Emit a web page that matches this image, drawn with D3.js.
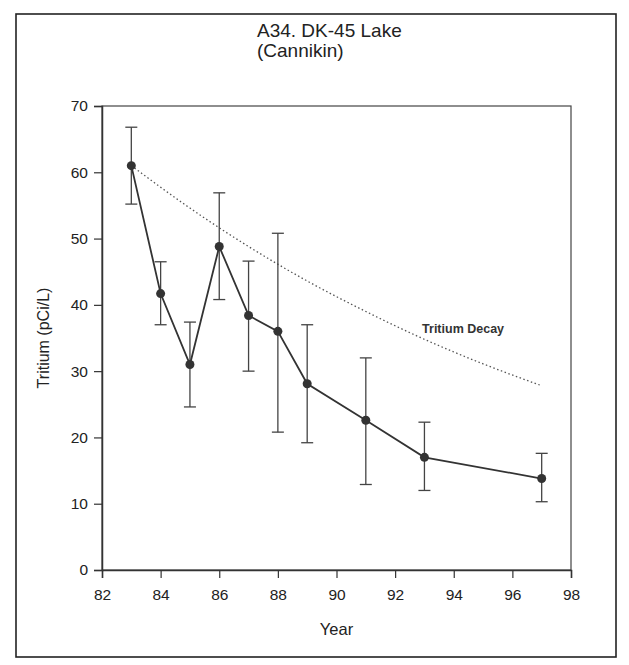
<!DOCTYPE html>
<html>
<head>
<meta charset="utf-8">
<script src="https://cdn.jsdelivr.net/npm/d3@7"></script>
<style>
  body { margin: 0; background: #fff; }
  svg { font-family: 'Liberation Sans', Arial, sans-serif; }
</style>
</head>
<body>
<svg width="629" height="665"></svg>
<script>
// measured tritium values (year, mean, low, high)
const years = [83, 84, 85, 86, 87, 88, 89, 91, 93, 97]
const tritium = [61, 41.7, 31, 48.8, 38.4, 36, 28.1, 22.6, 17, 13.8]
const errLow = [55.2, 37, 24.6, 40.8, 30, 20.8, 19.2, 12.9, 12, 10.3]
const errHigh = [66.8, 46.5, 37.4, 56.9, 46.6, 50.8, 37, 32, 22.3, 17.6]

// dotted decay curve
const decayYears = [83, 85, 87, 89, 91, 93, 95, 97]
const decayVals = [61, 54.6, 48.8, 43.6, 39, 34.8, 31.1, 27.8]

const xTicks = [82, 84, 86, 88, 90, 92, 94, 96, 98]
const yTicks = [0, 10, 20, 30, 40, 50, 60, 70]

const svg = d3.select('svg')
const margin = {top: 106, left: 102, right: 58, bottom: 95}
const width = 629 - margin.left - margin.right
const height = 665 - margin.top - margin.bottom

// outer frame
svg.append('rect')
  .attr('x', 16).attr('y', 14)
  .attr('width', 600).attr('height', 643)
  .attr('fill', 'none')
  .attr('stroke', '#222')
  .attr('stroke-width', 1.6)

svg.append('text')
  .attr('x', 257).attr('y', 37)
  .attr('font-size', 19)
  .attr('fill', '#222')
  .text('A34. DK-45 Lake')
svg.append('text')
  .attr('x', 257).attr('y', 57)
  .attr('font-size', 19)
  .attr('fill', '#222')
  .text('(Cannikin)')

const g = svg.append('g').attr('transform', 'translate(' + margin.left + ',' + margin.top + ')')

const x = d3.scaleLinear().domain([82, 98]).range([0, width])
const y = d3.scaleLinear().domain([0, 70]).range([height, 0])

// plot box
g.append('rect')
  .attr('width', width).attr('height', height)
  .attr('fill', 'none')
  .attr('stroke', '#444')
  .attr('stroke-width', 1.2)

const xAxis = g.append('g')
  .attr('transform', 'translate(0,' + height + ')')
  .call(d3.axisBottom(x).tickValues(xTicks).tickSize(8).tickPadding(11))
const yAxis = g.append('g')
  .call(d3.axisLeft(y).tickValues(yTicks).tickSize(8).tickPadding(6))

;[xAxis, yAxis].forEach(a => {
  a.select('.domain').attr('stroke', '#333').attr('stroke-width', 1.5)
  a.selectAll('.tick line').attr('stroke', '#333').attr('stroke-width', 1.2)
  a.selectAll('.tick text').attr('font-size', 15.5).attr('fill', '#222')
    .attr('font-family', "'Liberation Sans', Arial, sans-serif")
})

g.append('text')
  .attr('x', width / 2).attr('y', height + 65)
  .attr('text-anchor', 'middle')
  .attr('font-size', 16.5)
  .attr('fill', '#222')
  .text('Year')

g.append('text')
  .attr('transform', 'translate(-53,' + (height / 2) + ') rotate(-90)')
  .attr('text-anchor', 'middle')
  .attr('font-size', 16)
  .attr('fill', '#222')
  .text('Tritium (pCi/L)')

// decay curve
g.append('path')
  .datum(decayYears.map((d, i) => [d, decayVals[i]]))
  .attr('fill', 'none')
  .attr('stroke', '#555')
  .attr('stroke-width', 1.3)
  .attr('stroke-dasharray', '1.5,2.5')
  .attr('d', d3.line().x(d => x(d[0])).y(d => y(d[1])).curve(d3.curveMonotoneX))

g.append('text')
  .attr('x', x(92.92)).attr('y', y(36.4))
  .attr('dy', '0.35em')
  .attr('font-size', 12.5)
  .attr('font-weight', 'bold')
  .attr('fill', '#333')
  .text('Tritium Decay')

const data = years.map((d, i) => ({year: d, v: tritium[i], lo: errLow[i], hi: errHigh[i]}))

// error bars
const eb = g.append('g').attr('stroke', '#444').attr('stroke-width', 1.3)
eb.selectAll('.stem').data(data).enter().append('line')
  .attr('x1', d => x(d.year)).attr('x2', d => x(d.year))
  .attr('y1', d => y(d.lo)).attr('y2', d => y(d.hi))
eb.selectAll('.capT').data(data).enter().append('line')
  .attr('x1', d => x(d.year) - 6).attr('x2', d => x(d.year) + 6)
  .attr('y1', d => y(d.hi)).attr('y2', d => y(d.hi))
eb.selectAll('.capB').data(data).enter().append('line')
  .attr('x1', d => x(d.year) - 6).attr('x2', d => x(d.year) + 6)
  .attr('y1', d => y(d.lo)).attr('y2', d => y(d.lo))

g.append('path')
  .datum(data)
  .attr('fill', 'none')
  .attr('stroke', '#333')
  .attr('stroke-width', 1.8)
  .attr('d', d3.line().x(d => x(d.year)).y(d => y(d.v)))

g.selectAll('circle').data(data).enter().append('circle')
  .attr('cx', d => x(d.year)).attr('cy', d => y(d.v))
  .attr('r', 4.5)
  .attr('fill', '#333')
</script>
</body>
</html>
